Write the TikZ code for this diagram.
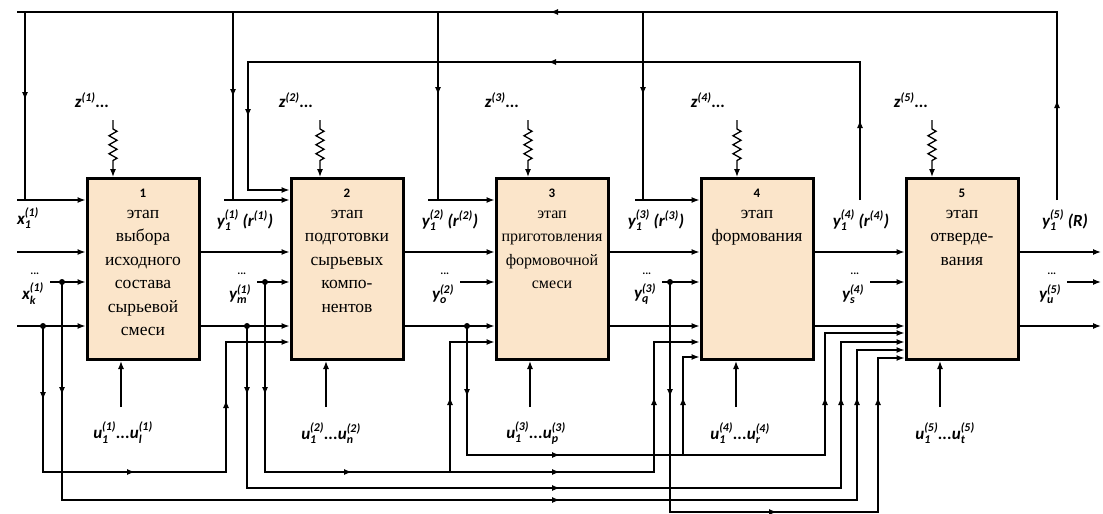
\documentclass[tikz,border=0pt]{standalone}
\usepackage{amsmath}
\usepackage{fontspec}
\setmainfont{Liberation Serif}
\newfontfamily\lblfont{Carlito}
\usepackage{tikz}
\usetikzlibrary{arrows.meta, positioning, decorations.markings, decorations.pathmorphing}
\definecolor{stagefill}{RGB}{251,229,202}
\newcommand{\sig}[3]{$\text{#1}_{\text{#2}}^{\text{#3}}$}
\newcommand{\lsup}[2]{$\text{#1}^{\text{#2}}$}
\newcommand{\numtxt}{\lblfont\bfseries\fontsize{13}{15}\selectfont}
\newcommand{\dts}{{\fontsize{11}{11}\selectfont ...}}

\begin{document}
\begin{tikzpicture}[x=1pt, y=-1pt,
  stage/.style={rectangle, draw, line width=3pt, fill=stagefill, minimum width=112pt, minimum height=181pt},
  stagetxt/.style={align=center, inner sep=0pt, font=\fontsize{17.5}{23.5}\selectfont},
  wire/.style={line width=1.3pt},
  arr/.style={wire, -{Latex[length=8pt,width=6pt]}},
  tipat/.style={postaction={decorate, decoration={markings, mark=at position #1 with {\arrow{Latex[length=8pt,width=6pt]}}}}},
  spring/.style={decorate, decoration={zigzag, segment length=9pt, amplitude=4pt, pre length=9pt, post length=13pt}},
  dot/.style={circle, fill, inner sep=0pt, minimum size=6pt},
  lbl/.style={inner sep=0pt, font=\lblfont\bfseries\itshape\fontsize{17}{18}\selectfont}
]
\useasboundingbox (0,0) rectangle (1103,514);

% stages
\node[stage] (b1) at (143,269) {};
\node[stage] (b2) at (347,269) {};
\node[stage] (b3) at (552,269) {};
\node[stage] (b4) at (757,269) {};
\node[stage] (b5) at (962,269) {};

\node[stagetxt, below=12pt of b1.north] (t1) {{\numtxt 1}\\[-3pt]этап\\выбора\\исходного\\состава\\сырьевой\\смеси};
\node[stagetxt, below=12pt of b2.north] (t2) {{\numtxt 2}\\[-3pt]этап\\подготовки\\сырьевых\\компо-\\нентов};
\node[stagetxt, below=12pt of b3.north, font=\fontsize{16}{23.5}\selectfont] (t3) {{\numtxt 3}\\[-3pt]этап\\приготовления\\формовочной\\смеси};
\node[stagetxt, below=12pt of b4.north] (t4) {{\numtxt 4}\\[-3pt]этап\\формования};
\node[stagetxt, below=12pt of b5.north] (t5) {{\numtxt 5}\\[-3pt]этап\\отверде-\\вания};

% disturbances
\coordinate (z1) at (113,120);
\coordinate (z2) at (320,120);
\coordinate (z3) at (528,120);
\coordinate (z4) at (737,120);
\coordinate (z5) at (932,120);
\foreach \i in {1,...,5}
  \draw[arr, spring] (z\i) -- (z\i |- b\i.north);

% controls
\coordinate (u1) at (121,407);
\coordinate (u2) at (326,407);
\coordinate (u3) at (530,407);
\coordinate (u4) at (736,407);
\coordinate (u5) at (940,407);
\foreach \i in {1,...,5}
  \draw[arr] (u\i) -- (u\i |- b\i.south);

% feedback from stage 5
\coordinate (r5) at (1057,200);
\draw[wire, tipat=100pt, tipat=695pt] (r5) -- (1057,12) -- (17,12);
\draw[wire, tipat=88pt] (25,12) -- (25,200);
\draw[wire, tipat=85pt] (233,12) -- (233,200);
\draw[wire, tipat=83pt] (438,12) -- (438,200);
\draw[wire, tipat=83pt] (643,12) -- (643,200);
\draw[arr] (17,200) -- (b1.west |- 0,200);
\draw[arr] (224,200) -- (b2.west |- 0,200);
\draw[arr] (428,200) -- (b3.west |- 0,200);
\draw[arr] (635,200) -- (b4.west |- 0,200);

% feedback from stage 4
\coordinate (r4) at (860,200);
\draw[arr, tipat=80pt, tipat=450pt, tipat=805pt] (r4) -- (860,62) -- (248,62) -- (248,190) -- (b2.west |- 0,190);

% main rows
\draw[arr] (17,252) -- (b1.west |- 0,252);
\draw[arr] (50,282) -- (b1.west |- 0,282);
\draw[arr] (17,326) -- (b1.west |- 0,326);
\draw[arr] (257,282) -- (b2.west |- 0,282);
\draw[arr] (460,282) -- (b3.west |- 0,282);
\draw[arr] (662,282) -- (b4.west |- 0,282);
\draw[arr] (870,282) -- (b5.west |- 0,282);
\draw[arr] (1067,282) -- (1101,282);
\foreach \a/\b in {b1/b2, b2/b3, b3/b4, b4/b5} {
  \draw[arr] (\a.east |- 0,252) -- (\b.west |- 0,252);
  \draw[arr] (\a.east |- 0,326) -- (\b.west |- 0,326);
}
\draw[arr] (b5.east |- 0,252) -- (1101,252);
\draw[arr] (b5.east |- 0,326) -- (1101,326);

% branch points
\node[dot] (d1) at (43,326) {};
\node[dot] (d2) at (62,282) {};
\node[dot] (d3) at (247,326) {};
\node[dot] (d4) at (265,282) {};
\node[dot] (d5) at (467,326) {};
\node[dot] (d6) at (670,282) {};

% feed-forward lines
\draw[arr, tipat=74pt, tipat=238pt, tipat=401pt] (d1.center) -- (43,472) -- (226,472) -- (226,342) -- (b2.west |- 0,342);
\draw[arr, tipat=113pt, tipat=716pt, tipat=1116pt] (d2.center) -- (62,500) -- (857,500) -- (857,350) -- (b5.west |- 0,350);
\draw[arr, tipat=69pt, tipat=475pt, tipat=847pt] (d3.center) -- (247,488) -- (841,488) -- (841,342) -- (b5.west |- 0,342);
\draw[arr, tipat=113pt, tipat=277pt, tipat=485pt, tipat=654pt] (d4.center) -- (265,472) -- (654,472) -- (654,342) -- (b4.west |- 0,342);
\draw[arr, tipat=75pt] (450,472) -- (450,342) -- (b3.west |- 0,342);
\draw[arr, tipat=71pt, tipat=222pt, tipat=545pt] (d5.center) -- (467,455) -- (825,455) -- (825,333) -- (b5.west |- 0,333);
\draw[arr, tipat=58pt] (683,455) -- (683,357) -- (b4.west |- 0,357);
\draw[arr, tipat=115pt, tipat=337pt, tipat=553pt] (d6.center) -- (670,512) -- (878,512) -- (878,358) -- (b5.west |- 0,358);

% labels
\node[lbl] (lz1) at (92,100) {\lsup{z}{(1)}...};
\node[lbl] (lz2) at (296,100) {\lsup{z}{(2)}...};
\node[lbl] (lz3) at (502,100) {\lsup{z}{(3)}...};
\node[lbl] (lz4) at (708,100) {\lsup{z}{(4)}...};
\node[lbl] (lz5) at (911,100) {\lsup{z}{(5)}...};
\node[lbl] (lx1) at (28,218) {\sig{x}{1}{(1)}};
\node[lbl] (ly1) at (245,220) {\sig{y}{1}{(1)} (\lsup{r}{(1)})};
\node[lbl] (ly2) at (450,220) {\sig{y}{1}{(2)} (\lsup{r}{(2)})};
\node[lbl] (ly3) at (656,220) {\sig{y}{1}{(3)} (\lsup{r}{(3)})};
\node[lbl] (ly4) at (861,220) {\sig{y}{1}{(4)} (\lsup{r}{(4)})};
\node[lbl] (ly5) at (1065,220) {\sig{y}{1}{(5)} (R)};
\node[lbl] (dxk) at (35,274) {\dts};
\node[lbl] (lxk) at (33,294) {\sig{x}{k}{(1)}};
\node[lbl] (dym) at (242,274) {\dts};
\node[lbl] (lym) at (240,294) {\sig{y}{m}{(1)}};
\node[lbl] (dyo) at (445,274) {\dts};
\node[lbl] (lyo) at (443,294) {\sig{y}{o}{(2)}};
\node[lbl] (dyq) at (647,274) {\dts};
\node[lbl] (lyq) at (645,294) {\sig{y}{q}{(3)}};
\node[lbl] (dys) at (855,274) {\dts};
\node[lbl] (lys) at (853,294) {\sig{y}{s}{(4)}};
\node[lbl] (dyu) at (1052,274) {\dts};
\node[lbl] (lyu) at (1050,294) {\sig{y}{u}{(5)}};
\node[lbl] (lu1) at (123,433) {\sig{u}{1}{(1)}...\sig{u}{l}{(1)}};
\node[lbl] (lu2) at (331,433) {\sig{u}{1}{(2)}...\sig{u}{n}{(2)}};
\node[lbl] (lu3) at (536,433) {\sig{u}{1}{(3)}...\sig{u}{p}{(3)}};
\node[lbl] (lu4) at (740,433) {\sig{u}{1}{(4)}...\sig{u}{r}{(4)}};
\node[lbl] (lu5) at (945,433) {\sig{u}{1}{(5)}...\sig{u}{t}{(5)}};
\end{tikzpicture}
\end{document}
